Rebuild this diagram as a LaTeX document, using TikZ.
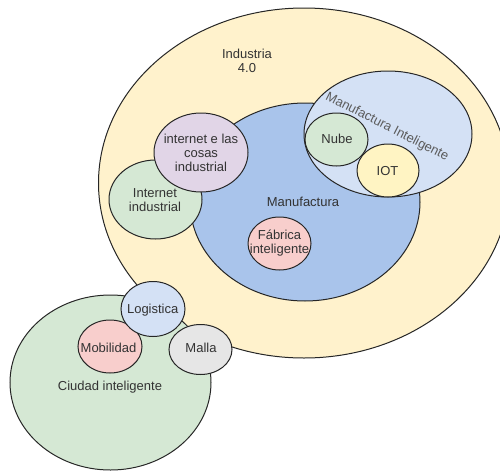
\documentclass[tikz,border=0pt]{standalone}
\usepackage{fontspec}
\setmainfont{Liberation Sans}
\usetikzlibrary{shapes.geometric}

\definecolor{edge}{HTML}{262626}
\definecolor{ink}{HTML}{333333}
\definecolor{softink}{HTML}{5C5C5C}
\definecolor{cream}{HTML}{FFF2CC}
\definecolor{butter}{HTML}{FFF4C3}
\definecolor{steel}{HTML}{A9C4EB}
\definecolor{sky}{HTML}{D4E1F5}
\definecolor{mint}{HTML}{D5E8D4}
\definecolor{rose}{HTML}{F8CECC}
\definecolor{lilac}{HTML}{E1D5E7}
\definecolor{fog}{HTML}{E6E6E6}

\begin{document}
\begin{tikzpicture}[x=1pt,y=-1pt,
  blob/.style={ellipse, draw=edge, line width=1pt, inner sep=0pt},
  txt/.style={text=ink, font=\fontsize{13}{14}\selectfont, align=center, inner sep=0pt}]
\useasboundingbox (0,0) rectangle (500,471);
\clip (0,0) rectangle (500,471);

% Industria 4.0
\node[blob, fill=cream, minimum width=411pt, minimum height=350pt] (ind) at (304,183) {};
\node[txt] (indlbl) at (247,61) {Industria\\4.0};

% Manufactura and its parts
\node[blob, fill=steel, minimum width=230pt, minimum height=198pt] (manu) at (305,202) {};
\node[txt] (manulbl) at (303,202) {Manufactura};

\node[blob, fill=sky, minimum width=168pt, minimum height=126pt] (mint) at (388,134) {};
\node[txt, text=softink, rotate=-27] (mintlbl) at (387,127) {Manufactura Inteligente};

\node[blob, fill=mint, minimum width=63pt, minimum height=53pt] (nube) at (336.5,139.5) {};
\node[txt] (nubelbl) at (337,139) {Nube};

\node[blob, fill=butter, minimum width=62pt, minimum height=53pt] (iot) at (388,170.5) {};
\node[txt] (iotlbl) at (387.5,171) {IOT};

\node[blob, fill=rose, minimum width=63pt, minimum height=53pt] (fab) at (279.5,243.5) {};
\node[txt] (fablbl) at (279.5,243.5) {Fábrica\\inteligente};

% Internet branches
\node[blob, fill=mint, minimum width=93pt, minimum height=79pt] (iic) at (155.5,199.5) {};
\node[txt] (iiclbl) at (155,199.7) {Internet\\industrial};

\node[blob, fill=lilac, minimum width=94pt, minimum height=79pt] (inet) at (201,152.5) {};
\node[txt] (inetlbl) at (201,152.5) {internet e las\\cosas\\industrial};

% Ciudad inteligente
\node[blob, fill=mint, minimum width=201pt, minimum height=175pt] (ciudad) at (110.5,382.5) {};
\node[txt] (ciudadlbl) at (110,386.7) {Ciudad inteligente};

\node[blob, fill=rose, minimum width=64pt, minimum height=53pt] (mob) at (110,346.5) {};
\node[txt] (moblbl) at (108.5,347.5) {Mobilidad};

\node[blob, fill=sky, minimum width=64pt, minimum height=55pt] (log) at (153,309) {};
\node[txt] (loglbl) at (152.7,310) {Logistica};

\node[blob, fill=fog, minimum width=63pt, minimum height=50pt] (malla) at (200.5,349.5) {};
\node[txt] (mallalbl) at (201,347.7) {Malla};
\end{tikzpicture}
\end{document}
